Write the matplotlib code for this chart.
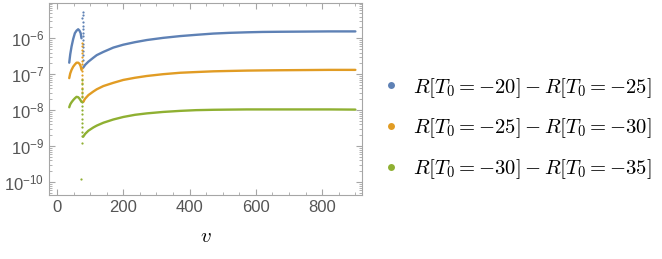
import numpy as np
import matplotlib.pyplot as plt
from matplotlib.lines import Line2D
from matplotlib.ticker import LogLocator, MultipleLocator, NullFormatter

# colours of Mathematica's default palette
colors = ["#5E81B5", "#E19C24", "#8FB032"]
labels = [r"$R[T_0=-20]-R[T_0=-25]$",
          r"$R[T_0=-25]-R[T_0=-30]$",
          r"$R[T_0=-30]-R[T_0=-35]$"]

# branch before the jump (x, log10 value)
x_pre = [37, 40, 44, 49, 54, 59, 64, 68, 71.5, 74]
blue_pre = [-6.68, -6.45, -6.23, -6.02, -5.86, -5.79, -5.75, -5.79, -5.86, -6.00]
orange_pre = [-7.11, -6.98, -6.88, -6.79, -6.73, -6.68, -6.68, -6.71, -6.78, -6.88]
green_pre = [-7.92, -7.84, -7.78, -7.72, -7.67, -7.63, -7.64, -7.68, -7.73, -7.77]

# branch after the jump
x_post = [79, 85, 95, 110, 120, 140, 170, 200, 235, 271, 320, 372, 420, 472,
          520, 573, 620, 674, 750, 820, 900]
blue_post = [-6.82, -6.74, -6.65, -6.54, -6.47, -6.38, -6.26, -6.18, -6.11, -6.05,
             -5.99, -5.94, -5.905, -5.87, -5.85, -5.835, -5.825, -5.82, -5.815, -5.81, -5.81]
orange_post = [-7.77, -7.68, -7.58, -7.48, -7.42, -7.33, -7.24, -7.16, -7.10, -7.05,
               -7.00, -6.96, -6.94, -6.92, -6.91, -6.90, -6.895, -6.89, -6.885, -6.88, -6.88]
green_post = [-8.74, -8.66, -8.57, -8.48, -8.43, -8.35, -8.26, -8.19, -8.13, -8.09,
              -8.05, -8.02, -8.00, -7.99, -7.985, -7.98, -7.98, -7.98, -7.98, -7.98, -7.985]

# scattered points near the jump
blue_sx = [77.5, 77.5, 77.0, 77.5, 78.0, 77.5, 77.5, 78.0, 77.5, 78.0, 77.5, 78.0, 78.0, 78.5]
blue_sy = [-5.27, -5.35, -5.45, -5.55, -5.65, -5.75, -5.85, -5.95, -6.05, -6.15,
           -6.25, -6.35, -6.47, -6.60]
orange_sx = [75.5, 76.0, 75.5, 76.0, 76.5, 75.5, 76.0, 76.5, 76.0, 76.5, 77.0, 76.5,
             77.0, 76.5, 77.0, 77.5]
orange_sy = [-6.13, -6.22, -6.32, -6.42, -6.52, -6.62, -6.72, -6.82, -6.92, -7.02,
             -7.12, -7.25, -7.38, -7.50, -7.62, -7.75]
green_sx = [75.0, 75.5, 75.0, 75.5, 76.0, 75.0, 75.5, 76.0, 75.5, 76.0, 75.5, 76.0,
            76.5, 76.0, 76.5, 74.0]
green_sy = [-7.16, -7.28, -7.40, -7.52, -7.64, -7.76, -7.88, -8.00, -8.12, -8.24,
            -8.36, -8.48, -8.60, -8.72, -8.90, -9.92]

pre = [blue_pre, orange_pre, green_pre]
post = [blue_post, orange_post, green_post]
sx = [blue_sx, orange_sx, green_sx]
sy = [blue_sy, orange_sy, green_sy]

fig = plt.figure(figsize=(6.62, 2.59), dpi=100)
ax = fig.add_axes([49 / 662, 64 / 259, 313 / 662, 192 / 259])

for c, yp, yq, px, py in zip(colors, pre, post, sx, sy):
    ax.plot(x_pre, 10 ** np.array(yp), color=c, lw=1.7, solid_capstyle="round")
    ax.plot(x_post, 10 ** np.array(yq), color=c, lw=1.7, solid_capstyle="round")
    ax.plot(px, 10 ** np.array(py), ".", color=c, ms=3.2, mew=0)

ax.set_yscale("log")
ax.set_xlim(-24, 920)
ax.set_ylim(10 ** -10.36, 10 ** -5.02)

gray = "#555555"
frame = "#a6a6a6"
ax.xaxis.set_major_locator(MultipleLocator(200))
ax.xaxis.set_minor_locator(MultipleLocator(50))
ax.yaxis.set_major_locator(LogLocator(base=10, numticks=20))
ax.yaxis.set_minor_locator(LogLocator(base=10, subs=np.arange(2, 10), numticks=20))
ax.yaxis.set_minor_formatter(NullFormatter())
ax.tick_params(which="both", direction="in", top=True, right=True, color=frame,
               labelcolor=gray, labelsize=12)
ax.tick_params(which="major", length=4, width=0.8)
ax.tick_params(which="minor", length=2, width=0.6)
for s in ax.spines.values():
    s.set_color(frame)
for lab in ax.get_xticklabels() + ax.get_yticklabels():
    lab.set_family("Liberation Sans")

ax.set_xlabel("$v$", fontsize=15, math_fontfamily="cm", labelpad=8)

handles = [Line2D([], [], ls="", marker="o", ms=5, mew=0, color=c) for c in colors]
leg = fig.legend(handles, labels, loc="center left", bbox_to_anchor=(0.553, 0.504),
                 frameon=False, handlelength=0.6, handletextpad=0.76, labelspacing=0.82,
                 prop={"size": 14.9})
for t in leg.get_texts():
    t.set_math_fontfamily("cm")

fig.savefig("out.png", dpi=100)
